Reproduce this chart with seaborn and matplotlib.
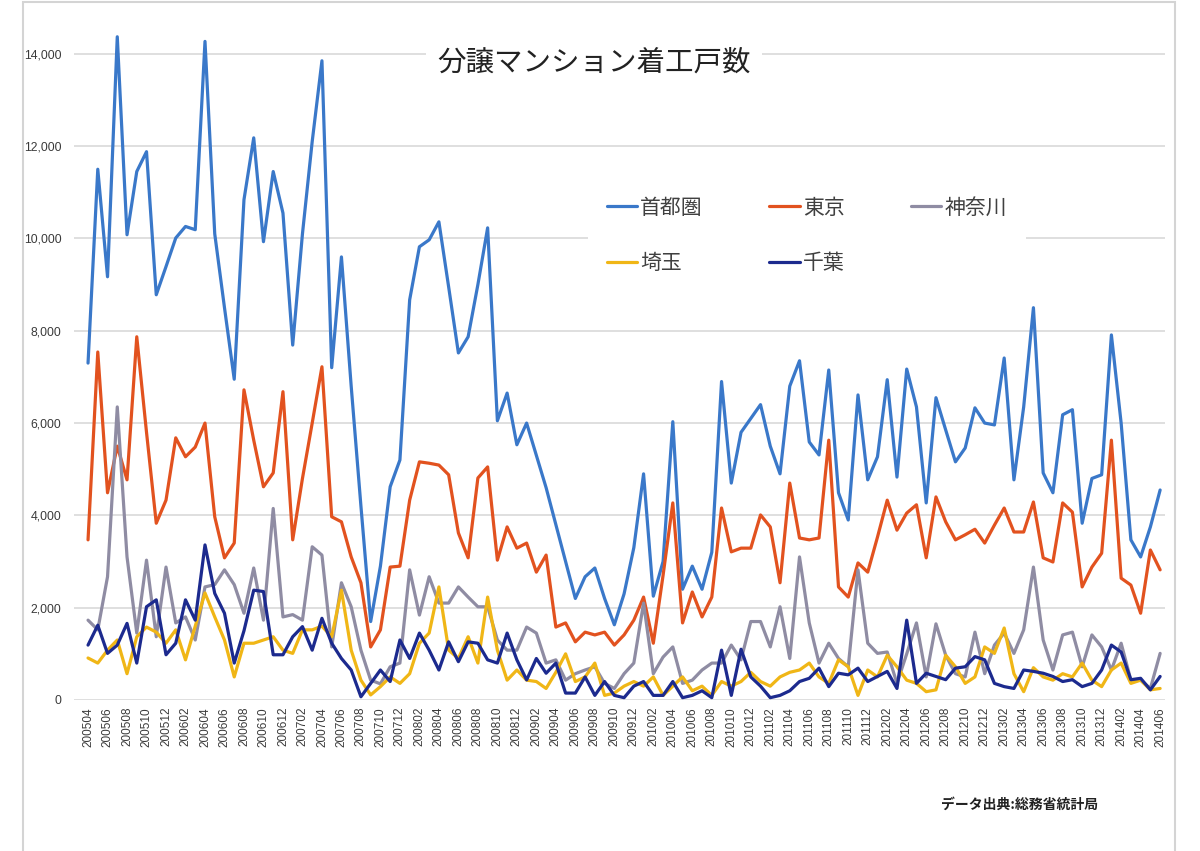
import pandas as pd
import matplotlib
matplotlib.use("Agg")
import matplotlib.pyplot as plt
import seaborn as sns
from matplotlib.patches import Rectangle

# 月ラベル 200504 .. 201406
months = pd.period_range("2005-04", "2014-06", freq="M").strftime("%Y%m").tolist()

# ── 着工戸数
shutoken = [7300, 11500, 9170, 14370, 10080, 11450, 11880, 8780, 9390, 10010,
            10260, 10190, 14270, 10100, 8500, 6950, 10840, 12180, 9930, 11450,
            10550, 7690, 10100, 12100, 13850, 7200, 9600, 6800, 4200, 1700,
            2900, 4620, 5200, 8670, 9820, 9970, 10360, 8950, 7520, 7870,
            9000, 10230, 6050, 6650, 5530, 6000, 5300, 4600, 3800, 3000,
            2200, 2670, 2860, 2200, 1630, 2300, 3300, 4900, 2250, 3000,
            6030, 2400, 2900, 2400, 3200, 6900, 4700, 5800, 6100, 6400,
            5500, 4900, 6800, 7350, 5590, 5310, 7150, 4490, 3900, 6610,
            4770, 5270, 6940, 4830, 7170, 6350, 4270, 6550, 5850, 5160,
            5460, 6330, 6000, 5960, 7410, 4770, 6350, 8500, 4920, 4490,
            6180, 6290, 3830, 4800, 4880, 7910, 6000, 3470, 3100, 3750,
            4550]
tokyo = [3470, 7540, 4490, 5500, 4770, 7870, 5800, 3830, 4330, 5680,
         5270, 5480, 6000, 3970, 3080, 3400, 6720, 5630, 4620, 4920,
         6680, 3470, 4800, 6000, 7220, 3970, 3860, 3100, 2540, 1150,
         1520, 2880, 2900, 4330, 5160, 5130, 5090, 4880, 3620, 3080,
         4810, 5050, 3030, 3750, 3290, 3400, 2770, 3140, 1580, 1670,
         1260, 1470, 1410, 1470, 1190, 1410, 1730, 2230, 1230, 2700,
         4270, 1670, 2340, 1800, 2230, 4160, 3210, 3290, 3290, 4010,
         3750, 2540, 4700, 3510, 3470, 3510, 5630, 2450, 2230, 2970,
         2770, 3530, 4330, 3680, 4050, 4230, 3080, 4400, 3860, 3470,
         3580, 3700, 3400, 3790, 4160, 3640, 3640, 4290, 3080, 2990,
         4270, 4070, 2450, 2880, 3180, 5630, 2640, 2490, 1880, 3250,
         2820]
kanagawa = [1730, 1520, 2670, 6350, 3100, 1450, 3030, 1370, 2880, 1670,
            1800, 1300, 2450, 2500, 2820, 2500, 1880, 2860, 1730, 4150,
            1800, 1850, 1730, 3320, 3140, 1150, 2540, 2020, 1080, 430,
            350, 720, 800, 2820, 1840, 2670, 2100, 2100, 2450, 2230,
            2020, 2020, 1300, 1080, 1080, 1580, 1450, 800, 870, 430,
            570, 650, 720, 360, 250, 570, 800, 2100, 570, 930,
            1150, 360, 430, 650, 800, 800, 1190, 870, 1700, 1700,
            1150, 2020, 900, 3100, 1670, 800, 1230, 900, 720, 2820,
            1230, 1010, 1040, 360, 1000, 1670, 500, 1650, 970, 570,
            500, 1470, 570, 1190, 1450, 1010, 1520, 2880, 1300, 650,
            1410, 1470, 720, 1410, 1150, 650, 1230, 430, 430, 250,
            1010]
saitama = [910, 800, 1080, 1300, 570, 1370, 1580, 1470, 1230, 1520,
           870, 1600, 2320, 1800, 1300, 500, 1230, 1230, 1300, 1370,
           1080, 1010, 1520, 1520, 1600, 1370, 2380, 1080, 430, 110,
           290, 500, 360, 570, 1230, 1450, 2450, 1080, 900, 1370,
           800, 2230, 1080, 430, 650, 430, 400, 250, 600, 1000,
           400, 500, 800, 100, 150, 300, 400, 300, 500, 100,
           300, 500, 200, 300, 100, 400, 300, 400, 600, 400,
           300, 500, 600, 650, 800, 500, 360, 870, 720, 100,
           650, 500, 970, 720, 430, 360, 180, 220, 970, 720,
           360, 500, 1150, 1010, 1560, 570, 180, 700, 500, 430,
           570, 500, 800, 430, 290, 650, 800, 360, 430, 220,
           250]
chiba = [1190, 1620, 1010, 1190, 1660, 800, 2020, 2170, 980, 1230,
         2170, 1730, 3360, 2310, 1880, 800, 1500, 2380, 2350, 980,
         980, 1370, 1590, 1080, 1770, 1230, 900, 650, 70, 360,
         650, 400, 1300, 900, 1450, 1080, 650, 1260, 830, 1260,
         1230, 870, 800, 1450, 870, 435, 900, 580, 800, 150,
         150, 500, 100, 400, 100, 50, 300, 400, 100, 100,
         400, 50, 100, 200, 50, 1080, 100, 1100, 500, 300,
         50, 100, 200, 400, 470, 690, 290, 580, 545, 690,
         400, 510, 620, 250, 1730, 360, 580, 510, 440, 690,
         720, 940, 870, 360, 290, 250, 650, 620, 580, 510,
         400, 440, 290, 360, 650, 1190, 1040, 440, 470, 220,
         510]

regions = ["首都圏", "東京", "神奈川", "埼玉", "千葉"]
colors = ["#3a78c9", "#e2521f", "#8f8ca3", "#f0b616", "#1c2a8e"]

df = pd.DataFrame({"月": months, "首都圏": shutoken, "東京": tokyo,
                   "神奈川": kanagawa, "埼玉": saitama, "千葉": chiba})
long = df.melt(id_vars="月", var_name="地域", value_name="戸数")
long["pos"] = long["月"].map({m: i for i, m in enumerate(months)})

sns.set_theme(style="white")
plt.rcParams["font.family"] = ["Noto Sans CJK JP", "DejaVu Sans"]

fig = plt.figure(figsize=(12, 8.51), dpi=100)
ax = fig.add_axes([74 / 1200, 1 - 700 / 851, 1091 / 1200, 690 / 851])

sns.lineplot(data=long, x="pos", y="戸数", hue="地域", hue_order=regions,
             palette=dict(zip(regions, colors)), linewidth=2.3,
             errorbar=None, legend=False, ax=ax)

ax.set_xlim(-1.44, 110.5)
ax.set_ylim(0, 14950)
yt = list(range(0, 14001, 2000))
ax.set_yticks(yt)
ax.set_yticklabels([f"{v:,}" for v in yt], fontsize=8.8,
                   family="Liberation Sans", color="#3a3a3a")
ax.set_xticks(range(0, len(months), 2))
ax.set_xticklabels(months[::2], rotation=90, fontsize=8.5,
                   family="Liberation Sans", color="#3a3a3a")
ax.tick_params(axis="both", length=0)
ax.tick_params(axis="y", pad=9)
ax.tick_params(axis="x", pad=5)
ax.grid(axis="y", color="#d9d9d9", linewidth=1.2)
ax.set_axisbelow(True)
for s in ax.spines.values():
    s.set_visible(False)
ax.set_xlabel("")
ax.set_ylabel("")

# タイトル
fig.text(594 / 1200, 1 - 63 / 851, "分譲マンション着工戸数", ha="center", va="center",
         fontsize=20.5, color="#222222",
         bbox=dict(facecolor="white", edgecolor="none", pad=8))

# 凡例（行優先の並びにするため順番を入れ替え）
lines = ax.get_lines()[:5]
order = [0, 3, 1, 4, 2]
leg = fig.legend([lines[i] for i in order], [regions[i] for i in order],
                 loc="upper left", bbox_to_anchor=(588 / 1200, 1 - 178 / 851),
                 bbox_transform=fig.transFigure, ncol=3, fontsize=15,
                 frameon=True, facecolor="white", edgecolor="none", framealpha=1,
                 handlelength=1.45, handletextpad=0.15, columnspacing=3.2,
                 labelspacing=1.6, borderpad=0.9, borderaxespad=0)
for t in leg.get_texts():
    t.set_color("#404040")

fig.text(1020 / 1200, 1 - 805 / 851, "データ出典:総務省統計局", ha="center", va="center",
         fontsize=10, fontweight="bold", color="#222222")

# 外枠
fig.add_artist(Rectangle((23 / 1200, -0.01), (1175 - 23) / 1200, 1.0075,
                         transform=fig.transFigure, fill=False,
                         edgecolor="#d4d4d4", linewidth=1.5))

fig.savefig("out.png", dpi=100)
